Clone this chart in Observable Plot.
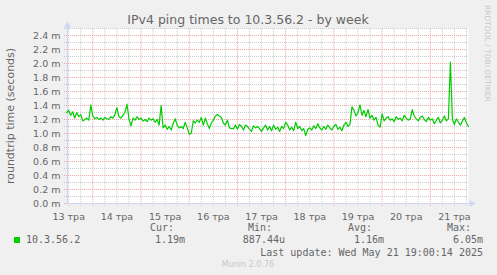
<!DOCTYPE html>
<html><head><meta charset="utf-8">
<script src="https://cdn.jsdelivr.net/npm/d3@7"></script>
<script src="https://cdn.jsdelivr.net/npm/@observablehq/plot@0.6"></script>
<style>body{margin:0;background:#f0f0f0;} svg{display:block}</style>
</head><body><div id="chart"></div>
<script>
const title = "IPv4 ping times to 10.3.56.2 - by week";
const yLabel = "roundtrip time (seconds)";
const dayNumbers = [13, 14, 15, 16, 17, 18, 19, 20, 21];
const dayLabels = ["13 тра", "14 тра", "15 тра", "16 тра", "17 тра", "18 тра", "19 тра", "20 тра", "21 тра"];
const yTicks = [0, 0.2, 0.4, 0.6, 0.8, 1.0, 1.2, 1.4, 1.6, 1.8, 2.0, 2.2, 2.4];
const seriesName = "10.3.56.2";
const legendHeaders = ["Cur:", "Min:", "Avg:", "Max:"];
const legendValues = ["1.19m", "887.44u", "1.16m", "6.05m"];
const lastUpdate = "Last update: Wed May 21 19:00:14 2025";
const footer = "Munin 2.0.76";
const sideText = "RRDTOOL / TOBI OETIKER";
// first sample: May 13, 11:00 ; one sample per hour (in milliseconds of seconds -> ms)
const startDay = 13.4583;
const values = [
1.30,1.33,1.26,1.31,1.22,1.30,1.24,1.27,1.18,1.20,
1.22,1.19,1.41,1.25,1.21,1.23,1.20,1.22,1.19,1.23,
1.21,1.20,1.24,1.22,1.27,1.37,1.24,1.22,1.26,1.30,
1.42,1.21,1.11,1.22,1.19,1.24,1.20,1.22,1.18,1.20,
1.17,1.22,1.19,1.21,1.16,1.20,1.12,1.40,1.08,1.12,
1.06,1.10,1.05,1.14,1.21,1.12,1.08,1.10,1.07,1.16,
1.08,0.99,1.00,1.18,1.15,1.19,1.16,1.23,1.12,1.22,
1.14,1.07,1.15,1.19,1.25,1.27,1.25,1.23,1.15,1.12,
1.19,1.08,1.07,1.07,1.12,1.06,1.13,1.10,1.05,1.12,
1.10,1.06,1.03,1.11,1.08,1.10,1.07,1.03,1.08,1.12,
1.05,1.10,1.04,1.12,1.06,1.09,1.03,1.10,1.07,1.16,
1.12,1.05,1.09,1.04,1.16,1.07,1.10,1.04,1.07,0.97,
1.06,1.08,1.05,1.11,1.07,1.14,1.08,1.05,1.10,1.06,
1.12,1.08,1.05,1.10,1.13,1.06,1.09,1.04,1.12,1.16,
1.10,1.13,1.38,1.33,1.25,1.30,1.41,1.26,1.33,1.24,
1.34,1.22,1.26,1.19,1.23,1.12,1.09,1.28,1.18,1.22,
1.24,1.19,1.21,1.17,1.24,1.20,1.22,1.18,1.26,1.22,
1.19,1.21,1.34,1.25,1.21,1.18,1.23,1.25,1.20,1.17,
1.23,1.19,1.21,1.14,1.19,1.23,1.15,1.19,1.25,1.18,
1.21,2.02,1.20,1.13,1.21,1.16,1.12,1.18,1.23,1.15,
1.10
];
const data = values.map((v, i) => ({t: startDay + i / 24, v}));
const x0 = 13.475, x1 = 21.792;
const minorX = d3.range(13.5, 21.8, 0.25).filter(d => d % 1 !== 0);
const majorX = d3.range(14, 22, 1);
const minorY = d3.range(0.1, 2.55, 0.2);
const majorY = yTicks;

const grey = "#666666";
const plot = Plot.plot({
  width: 497, height: 275,
  marginLeft: 67, marginRight: 29, marginTop: 28, marginBottom: 72,
  x: {domain: [x0, x1], axis: null},
  y: {domain: [0, 2.5], axis: null},
  style: {background: "#f0f0f0", overflow: "visible"},
  marks: [
    Plot.frame({fill: "white", stroke: "none"}),
    Plot.ruleX(minorX, {x: d => d, y1: -0.04, y2: 2.5, stroke: "#c8c8c8", strokeDasharray: "1,1"}),
    Plot.ruleY(minorY, {y: d => d, x1: x0 - 0.06, x2: x1, stroke: "#c8c8c8", strokeDasharray: "1,1"}),
    Plot.ruleX(majorX, {x: d => d, y1: -0.04, y2: 2.5, stroke: "#f0a0a0", strokeDasharray: "1,1"}),
    Plot.ruleY(majorY, {y: d => d, x1: x0 - 0.06, x2: x1, stroke: "#f0a0a0", strokeDasharray: "1,1"}),
    Plot.ruleY([0], {x1: x0, x2: x1 + 0.04, stroke: "#CFD6F8"}),
    Plot.ruleX([x0], {y1: 0, y2: 2.55, stroke: "#CFD6F8"}),
    Plot.dot([0], {x: x1, y: 0, dx: 3, symbol: "triangle", r: 2.6, rotate: 90, fill: "#CFD6F8", stroke: "none"}),
    Plot.dot([0], {x: x0, y: 2.5, dy: -3, symbol: "triangle", r: 2.6, fill: "#CFD6F8", stroke: "none"}),
    Plot.line(data, {x: "t", y: "v", stroke: "#00CC00", strokeWidth: 1.2}),
    Plot.text(yTicks, {x: x0, y: d => d, text: d => d.toFixed(1) + " m", dx: -7, textAnchor: "end",
      fontFamily: "DejaVu Sans", fontSize: 9.5, fill: grey}),
    Plot.text(dayNumbers, {x: d => d + 0.5, y: 0, text: (d, i) => dayLabels[i], dy: 10, lineAnchor: "top",
      fontFamily: "DejaVu Sans", fontSize: 9.5, fill: grey})
  ]
});
document.getElementById("chart").appendChild(plot);
const svg = d3.select(plot);
const add = (x, y, txt, o = {}) => {
  const t = svg.append("text").attr("x", x).attr("y", y).text(txt)
    .attr("font-family", o.family || "DejaVu Sans").attr("font-size", o.size || 10)
    .attr("fill", o.fill || grey).attr("text-anchor", o.anchor || "start");
  if (o.transform) t.attr("transform", o.transform);
  return t;
};
add(248, 24, title, {size: 12.5, anchor: "middle"});
add(0, 0, yLabel, {size: 11, anchor: "middle", transform: "translate(14,116) rotate(-90)"});
add(0, 0, sideText, {size: 7.5, anchor: "start", fill: "#c8c8c8", transform: "translate(485,5) rotate(90)"});
svg.append("rect").attr("x", 14).attr("y", 237).attr("width", 6).attr("height", 6).attr("fill", "#00CC00");
const mono = {family: "DejaVu Sans Mono", size: 10};
add(26, 243, seriesName, mono);
const hx = [150, 248, 348, 447];
const vx = [185, 285, 384, 483];
legendHeaders.forEach((h, i) => add(hx[i], 231, h, mono));
legendValues.forEach((v, i) => add(vx[i], 243, v, {...mono, anchor: "end"}));
add(483, 256, lastUpdate, {...mono, anchor: "end"});
add(248, 267, footer, {size: 8, anchor: "middle", fill: "#c8c8c8"});
</script></body></html>
